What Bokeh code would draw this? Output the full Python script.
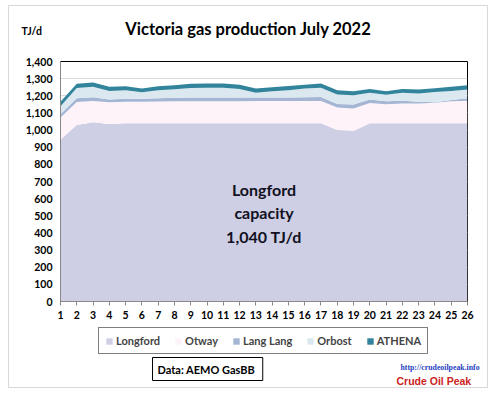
from bokeh.plotting import figure
from bokeh.layouts import column
from bokeh.models import (ColumnDataSource, Range1d, FixedTicker,
                          NumeralTickFormatter, Label, Legend, LegendItem)
from bokeh.embed import file_html
from bokeh.resources import INLINE

days = list(range(1, 27))
longford = [945, 1030, 1045, 1035, 1040, 1040, 1040, 1040, 1040, 1040, 1040, 1040, 1040,
            1040, 1040, 1040, 1040, 1000, 995, 1040, 1040, 1040, 1040, 1040, 1040, 1040]
otway = [128, 134, 125, 127, 125, 125, 127, 128, 128, 128, 128, 128, 130,
         130, 130, 130, 130, 132, 131, 118, 110, 115, 115, 120, 128, 131]
langlang = [19, 22, 22, 16, 17, 17, 18, 20, 22, 22, 22, 22, 20,
            20, 20, 22, 23, 20, 23, 20, 18, 16, 10, 3, 7, 14]
orbost = [47, 60, 60, 50, 50, 38, 47, 50, 56, 57, 57, 50, 28,
          36, 43, 50, 54, 56, 54, 39, 38, 47, 49, 59, 53, 52]
athena = [26, 24, 25, 24, 24, 23, 23, 24, 24, 24, 24, 24, 24,
          24, 24, 23, 24, 25, 24, 23, 21, 22, 22, 22, 24, 25]

series = ["Longford", "Otway", "Lang Lang", "Orbost", "ATHENA"]
colors = ["#CECEE4", "#FFF3FA", "#A5B6D4", "#DCE8F0", "#31849B"]
x_ticks = days
y_ticks = list(range(0, 1401, 100))

title_text = "Victoria gas production July 2022"
unit_text = "TJ/d"
note_lines = ["Longford", "capacity", "1,040 TJ/d"]
source_text = "Data:  AEMO GasBB"
site_text = "http://crudeoilpeak.info"
brand_text = "Crude Oil Peak"

FONT = "Lato"
W = 478

source = ColumnDataSource(dict(day=days, Longford=longford, Otway=otway,
                               **{"Lang Lang": langlang}, Orbost=orbost, ATHENA=athena))


def no_align(f):
    if "frame_align" in f.properties():
        f.frame_align = False


def blank(h):
    f = figure(width=W, height=h, output_backend="svg", toolbar_location=None,
               x_range=Range1d(0, W), y_range=Range1d(0, h),
               x_axis_type=None, y_axis_type=None,
               min_border_left=0, min_border_right=0, min_border_top=0, min_border_bottom=0)
    f.outline_line_color = None
    f.grid.visible = False
    no_align(f)
    return f


# header
head = blank(47)
head.add_layout(Label(x=239, y=25, text=title_text, text_font=FONT, text_font_style="bold",
                      text_font_size="16.5px", text_align="center", text_baseline="middle",
                      text_color="black"))
head.add_layout(Label(x=12, y=23, text=unit_text, text_font=FONT, text_font_style="bold",
                      text_font_size="10.5px", text_align="left", text_baseline="middle",
                      text_color="black"))

# main chart
p = figure(width=W, height=273, output_backend="svg", toolbar_location=None,
           x_range=Range1d(1, 26), y_range=Range1d(0, 1400),
           min_border_left=51, min_border_right=20, min_border_top=8, min_border_bottom=25)
no_align(p)
p.varea_stack(series, x="day", color=colors, source=source)

p.outline_line_color = "black"
p.outline_line_width = 1
p.xgrid.visible = False
p.ygrid.grid_line_color = "#D9D9D9"
p.ygrid.ticker = FixedTicker(ticks=y_ticks)
p.yaxis.ticker = FixedTicker(ticks=y_ticks)
p.yaxis.formatter = NumeralTickFormatter(format="0,0")
p.xaxis.ticker = FixedTicker(ticks=x_ticks)
for ax in (p.xaxis[0], p.yaxis[0]):
    ax.major_label_text_font = FONT
    ax.major_label_text_font_style = "bold"
    ax.major_label_text_font_size = "10.5px"
    ax.major_label_text_color = "black"
    ax.minor_tick_line_color = None
    ax.axis_line_color = "#888888"
    ax.major_tick_line_color = "#888888"
p.yaxis.major_tick_out = 0
p.yaxis.major_tick_in = 0
p.yaxis.major_label_standoff = 8
p.xaxis.major_tick_out = 4
p.xaxis.major_tick_in = 0
p.xaxis.major_label_standoff = 5

for t, yv in zip(note_lines, [655, 520, 380]):
    p.add_layout(Label(x=13.5, y=yv, text=t, text_font=FONT, text_font_style="bold",
                       text_font_size="16px", text_align="center", text_baseline="middle",
                       text_color="#111122"))

# footer: legend, source box and site credit
foot = blank(61)
keys = foot.varea_stack(series, x="day", color=colors, source=source)
for r in keys:
    r.visible = False
legend = Legend(items=[LegendItem(label=s, renderers=[r]) for s, r in zip(series, keys)],
                orientation="horizontal", location=(89, 33))
legend.label_text_font = FONT
legend.label_text_font_style = "bold"
legend.label_text_font_size = "11px"
legend.glyph_width = 8
legend.glyph_height = 8
legend.label_height = 12
legend.label_standoff = 3
legend.spacing = 14
legend.padding = 6
legend.margin = 0
legend.inactive_fill_alpha = 0
legend.border_line_color = "black"
legend.border_line_width = 1
foot.add_layout(legend, "center")

foot.add_layout(Label(x=143, y=18.5, text=source_text,
                      text_font=FONT, text_font_style="bold", text_font_size="11px",
                      text_align="left", text_baseline="middle", text_color="black",
                      border_line_color="black", border_line_width=1,
                      background_fill_color="white", padding=5))
foot.add_layout(Label(x=391, y=20, text=site_text, text_font="Liberation Serif",
                      text_font_style="bold", text_font_size="7.8px", text_color="#1F3FBF",
                      text_align="left", text_baseline="middle"))
foot.add_layout(Label(x=387, y=7, text=brand_text, text_font="Liberation Sans",
                      text_font_style="bold", text_font_size="10.5px", text_color="#CC2222",
                      text_align="left", text_baseline="middle"))

layout = column(head, p, foot, spacing=0)
layout.styles = {"border": "1px solid #D9D9D9", "margin-left": "8px", "margin-top": "5px"}

open("out.html", "w").write(file_html(layout, INLINE))
